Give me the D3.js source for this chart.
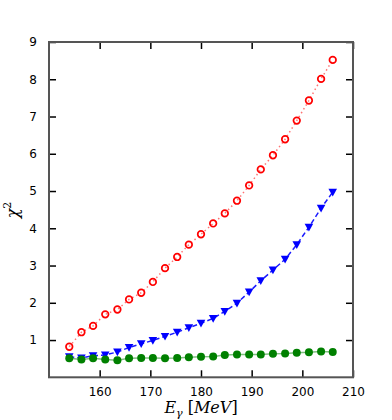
<!DOCTYPE html>
<html>
<head>
<meta charset="utf-8">
<script src="https://d3js.org/d3.v7.min.js"></script>
<style>
  body { margin: 0; background: #fff; }
  .tick text { font-family: "DejaVu Sans", sans-serif; font-size: 12px; fill: #000; }
</style>
</head>
<body>
<script>
// photon energies (MeV)
var energy = [154.0, 156.4, 158.7, 161.1, 163.5, 165.8, 168.2, 170.5, 172.9, 175.3, 177.6, 180.0,
              182.4, 184.7, 187.1, 189.5, 191.8, 194.2, 196.6, 198.9, 201.3, 203.7, 206.0];
// chi^2 per series
var chiRed   = [0.82, 1.21, 1.38, 1.69, 1.82, 2.09, 2.27, 2.56, 2.93, 3.23, 3.56, 3.84,
                4.13, 4.40, 4.74, 5.15, 5.58, 5.96, 6.39, 6.89, 7.43, 8.01, 8.52];
var chiBlue  = [0.55, 0.52, 0.58, 0.60, 0.68, 0.80, 0.90, 0.99, 1.10, 1.21, 1.33, 1.45,
                1.58, 1.77, 1.99, 2.29, 2.59, 2.88, 3.17, 3.56, 4.03, 4.54, 4.97];
var chiGreen = [0.51, 0.48, 0.51, 0.48, 0.46, 0.51, 0.52, 0.52, 0.51, 0.52, 0.54, 0.55,
                0.56, 0.60, 0.61, 0.61, 0.61, 0.63, 0.64, 0.66, 0.67, 0.69, 0.68];
var xTicks = [160, 170, 180, 190, 200, 210];
var yTicks = [1, 2, 3, 4, 5, 6, 7, 8, 9];

var width = 392, height = 420;
var mLeft = 49, mRight = 353, mTop = 42, mBottom = 377.3;

var svg = d3.select("body").append("svg")
  .attr("width", width)
  .attr("height", height);

var x = d3.scaleLinear().domain([150, 210]).range([mLeft, mRight]);
var y = d3.scaleLinear().domain([0, 9]).range([mBottom, mTop]);

// axes: ticks point inward on all sides
function styleAxis(g) {
  g.select(".domain").remove();
  g.selectAll(".tick line").attr("stroke", "#000").attr("stroke-width", 1.5);
}
svg.append("g").attr("transform", "translate(0," + mBottom + ")")
  .call(d3.axisBottom(x).tickValues(xTicks).tickSize(-7).tickPadding(10))
  .call(styleAxis);
svg.append("g").attr("transform", "translate(0," + mTop + ")")
  .call(d3.axisTop(x).tickValues(xTicks).tickSize(-7).tickFormat(""))
  .call(styleAxis);
svg.append("g").attr("transform", "translate(" + mLeft + ",0)")
  .call(d3.axisLeft(y).tickValues(yTicks).tickSize(-7).tickPadding(12))
  .call(styleAxis);
svg.append("g").attr("transform", "translate(" + mRight + ",0)")
  .call(d3.axisRight(y).tickValues(yTicks).tickSize(-7).tickFormat(""))
  .call(styleAxis);

// frame
svg.append("rect")
  .attr("x", mLeft).attr("y", mTop)
  .attr("width", mRight - mLeft).attr("height", mBottom - mTop)
  .attr("fill", "none").attr("stroke", "#555").attr("stroke-width", 2);

function series(vals, color, dash, opacity, marker) {
  var pts = energy.map(function (e, i) { return [e, vals[i]]; });
  var line = d3.line().x(function (d) { return x(d[0]); }).y(function (d) { return y(d[1]); });
  svg.append("path").datum(pts)
    .attr("d", line)
    .attr("fill", "none")
    .attr("stroke", color)
    .attr("stroke-opacity", opacity)
    .attr("stroke-width", 1.5)
    .attr("stroke-dasharray", dash);
  var g = svg.append("g");
  if (marker == "open") {
    g.selectAll("circle").data(pts).enter().append("circle")
      .attr("cx", function (d) { return x(d[0]); })
      .attr("cy", function (d) { return y(d[1]); })
      .attr("r", 3.3)
      .attr("fill", "none").attr("stroke", color).attr("stroke-width", 1.7);
  } else if (marker == "filled") {
    g.selectAll("circle").data(pts).enter().append("circle")
      .attr("cx", function (d) { return x(d[0]); })
      .attr("cy", function (d) { return y(d[1]); })
      .attr("r", 4)
      .attr("fill", color);
  } else {
    var s = 4.3;
    g.selectAll("path").data(pts).enter().append("path")
      .attr("transform", function (d) { return "translate(" + x(d[0]) + "," + y(d[1]) + ")"; })
      .attr("d", "M" + (-s) + "," + (-s * 0.8) + "L" + s + "," + (-s * 0.8) + "L0," + (s * 1.0) + "Z")
      .attr("fill", color);
  }
}

series(chiRed, "#ff0000", "1.5,3", 0.55, "open");
series(chiBlue, "#0000ff", "5,3", 0.9, "tri");
series(chiGreen, "#008000", null, 0.5, "filled");

// axis labels
var xl = svg.append("text")
  .attr("x", 201).attr("y", 413)
  .attr("text-anchor", "middle")
  .attr("font-family", "DejaVu Serif, serif")
  .attr("font-size", 16);
xl.append("tspan").attr("font-style", "italic").text("E");
xl.append("tspan").attr("font-style", "italic").attr("font-size", 11).attr("dy", 4).text("γ");
xl.append("tspan").attr("dy", -4).text(" [");
xl.append("tspan").attr("font-style", "italic").text("MeV");
xl.append("tspan").text("]");

var yl = svg.append("text")
  .attr("transform", "translate(18,210) rotate(-90)")
  .attr("text-anchor", "middle")
  .attr("font-family", "DejaVu Serif, serif")
  .attr("font-size", 16);
yl.append("tspan").attr("font-style", "italic").text("χ");
yl.append("tspan").attr("font-size", 11).attr("dy", -7).text("2");
</script>
</body>
</html>
